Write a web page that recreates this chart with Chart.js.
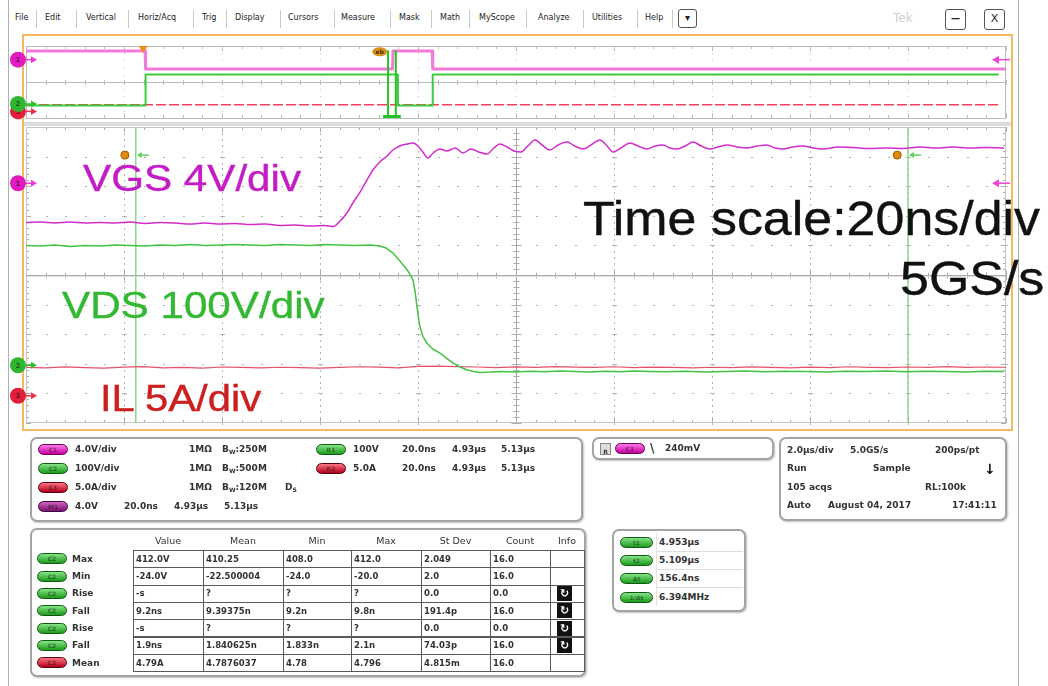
<!DOCTYPE html>
<html><head><meta charset="utf-8">
<script src="https://cdn.jsdelivr.net/npm/chart.js@4.4.1/dist/chart.umd.min.js"></script>
<style>
html,body{margin:0;padding:0;background:#fff;width:1048px;height:686px;overflow:hidden;position:relative;font-family:"DejaVu Sans",sans-serif;}
.abs{position:absolute;}
.menu{position:absolute;top:13px;font:8px "DejaVu Sans";color:#222;white-space:nowrap;line-height:10px;}
.sep{position:absolute;top:10px;width:1px;height:18px;background:#c9c9c9;}
.btn{position:absolute;border:1.5px solid #555;border-radius:3px;background:#fff;font:bold 10px "DejaVu Sans";color:#222;text-align:center;box-sizing:border-box;}
.frame{position:absolute;left:22px;top:34px;width:991px;height:397px;border:2px solid #f7b75f;box-sizing:border-box;}
.panel{position:absolute;border:2px solid #a4a4a4;border-radius:7px;background:#fff;box-shadow:1px 1px 2px rgba(0,0,0,0.25);box-sizing:border-box;}
.t{position:absolute;font:bold 9px "DejaVu Sans";color:#333;white-space:nowrap;line-height:12px;}
.badge{position:absolute;width:30px;height:11px;border-radius:6px;box-sizing:border-box;font:bold 6px "DejaVu Sans";color:rgba(0,0,0,0.45);text-align:center;line-height:10px;}
.bm{background:linear-gradient(#ff7ae8,#c2009e);border:1px solid #6a0055;}
.bg{background:linear-gradient(#86e486,#1c9a1c);border:1px solid #0e5a0e;}
.br{background:linear-gradient(#ff7480,#b0001e);border:1px solid #5a000e;}
.bp{background:linear-gradient(#cf62bf,#7a1070);border:1px solid #3e0838;}
.big{position:absolute;font-family:"Liberation Sans",Arial,sans-serif;white-space:nowrap;transform-origin:0 0;z-index:5;-webkit-text-stroke:0.4px currentColor;}
.cell{position:absolute;border:1px solid #5a5a5a;box-sizing:border-box;background:#fff;}
canvas{position:absolute;left:0;}
sub{font-size:6px;vertical-align:-2px;}
</style></head><body>

<div class="abs" style="left:8px;top:0;width:1px;height:686px;background:#b0b0b0"></div>
<div class="abs" style="left:1018px;top:0;width:1px;height:686px;background:#b0b0b0"></div>
<div class="frame"></div>
<div class="abs" style="left:24px;top:122px;width:987px;height:4px;background:#dcdcdc"></div>

<canvas id="ov" width="1048" height="88" style="top:36px"></canvas>
<canvas id="main" width="1048" height="320" style="top:120px"></canvas>

<div class="big" style="left:83px;top:160px;font-size:37px;line-height:37px;transform:scaleX(1.14);color:#c41cc4">VGS 4V/div</div>
<div class="big" style="left:62px;top:287px;font-size:37px;line-height:37px;transform:scaleX(1.14);color:#34b834">VDS 100V/div</div>
<div class="big" style="left:100px;top:380px;font-size:37px;line-height:37px;transform:scaleX(1.13);color:#cc1f1f">IL 5A/div</div>
<div class="big" style="left:583px;top:194px;font-size:49px;line-height:49px;transform:scaleX(1.06);color:#111">Time scale:20ns/div</div>
<div class="big" style="left:900px;top:254px;font-size:49px;line-height:49px;transform:scaleX(1.06);color:#111">5GS/s</div>

<script>
// ---------------- chart data ----------------
const channelNames = ['VGS', 'VDS', 'IL'];
const channelUnitsPerDiv = [4, 100, 5];
const channelOffsetDiv = [3.1, -3.05, -4.08];

// zoomed acquisition (ns)
const vgsTimeNs = [0.0,2.9,5.9,9.0,12.0,15.1,18.2,21.2,24.3,27.3,30.4,33.5,36.5,39.6,42.7,45.7,48.8,51.8,54.9,58.0,61.0,62.7,64.1,65.5,66.7,68.2,69.6,70.8,72.2,73.7,74.9,76.3,77.8,79.0,80.0,81.0,82.0,83.1,84.5,85.9,87.6,89.2,90.8,92.4,94.1,95.5,96.7,98.2,99.6,101.0,102.4,103.9,105.3,106.9,108.6,110.4,112.0,113.7,115.3,117.1,118.6,119.8,121.4,123.3,124.9,126.7,128.4,130.0,131.4,132.9,134.5,136.1,137.8,139.6,141.2,143.1,145.1,147.1,149.2,151.2,152.9,154.5,156.5,158.6,160.6,162.7,165.7,168.8,172.2,175.7,179.0,182.4,185.9,189.2,192.7,196.1,199.6];
const vgsVolts = [-5.31,-5.24,-5.37,-5.24,-5.37,-5.31,-5.37,-5.24,-5.44,-5.31,-5.37,-5.51,-5.37,-5.51,-5.44,-5.58,-5.51,-5.71,-5.64,-5.78,-5.71,-5.85,-5.10,-4.02,-2.67,-1.18,0.44,1.79,2.87,3.68,4.49,5.03,5.30,5.44,5.03,4.22,3.41,4.09,4.63,4.36,4.76,4.09,4.63,4.22,3.95,4.76,5.30,4.90,4.36,4.22,5.03,5.84,5.17,4.49,5.17,5.57,5.03,4.63,5.17,5.84,5.03,4.22,4.76,5.44,5.03,4.63,5.03,5.17,4.76,4.63,5.03,5.57,5.03,4.63,4.90,5.17,4.90,4.76,5.03,5.17,4.76,4.63,4.90,5.03,4.76,4.63,4.90,4.83,4.69,4.76,4.69,4.90,4.76,4.90,4.76,4.83,4.76];

const vdsTimeNs = [0.0,2.9,5.9,9.0,12.0,15.1,18.2,21.2,24.3,27.3,30.4,33.5,36.5,39.6,42.7,45.7,48.8,51.8,54.9,58.0,61.0,64.1,67.1,70.2,72.2,73.5,74.9,76.3,77.8,78.6,79.0,79.4,79.8,80.1,80.4,81.0,81.8,83.0,84.5,85.8,87.1,88.6,90.0,91.4,92.7,94.7,96.7,99.8,102.9,105.9,109.0,112.0,115.1,118.2,121.2,124.3,127.3,130.4,134.5,138.6,142.7,146.7,150.8,154.9,159.0,163.3,167.3,171.4,175.5,179.6,183.7,187.8,191.8,195.9,199.6];
const vdsVolts = [405,403,406,401,405,403,406,405,403,406,405,408,405,406,408,406,405,408,406,405,408,406,405,406,403,396,379,352,322,300,288,250,197,160,129,98,75,55,41,24,8,-6,-16,-21,-24,-23,-21,-23,-20,-22,-19,-21,-23,-20,-22,-19,-21,-22,-20,-23,-21,-19,-22,-20,-21,-23,-20,-21,-19,-22,-20,-21,-23,-20,-21];

const ilTimeNs = [0,4,8,12,16,20,24,28,32,36,40,44,48,52,56,60,64,68,72,76,80,84,88,92,96,100,104,108,112,116,120,124,128,132,136,140,144,148,152,156,160,164,168,172,176,180,184,188,192,196,200];
const ilAmps = [4.80,4.70,4.88,4.75,4.66,4.84,4.92,4.72,4.80,4.68,4.86,4.78,4.70,4.82,4.74,4.66,4.78,4.90,4.84,4.70,4.95,5.02,4.92,4.86,4.76,4.88,4.80,4.92,4.84,4.78,4.90,4.74,4.84,4.80,4.70,4.82,4.76,4.88,4.80,4.72,4.84,4.76,4.90,4.80,4.74,4.86,4.78,4.92,4.80,4.86,4.82];

const cursorTimesNs = [22.4, 180.0];
const cursorHandleNs = [20.2, 177.8];
const cursorHandleLevelDiv = [4.05, 4.05];

// full record overview (µs)
const ovVgsTimeUs = [0, 2.43, 2.44, 7.48, 7.49, 8.29, 8.30, 20];
const ovVgsVolts = [4.8, 4.8, -5.2, -5.2, 4.8, 4.8, -5.2, -5.2];
const ovVdsTimeUs = [0, 2.43, 2.44, 7.58, 7.59, 8.29, 8.30, 19.85];
const ovVdsVolts = [-20, -20, 410, 410, -20, -20, 410, 410];
const ovIlTimeUs = [0, 4, 8, 12, 16, 19.85];
const ovIlAmps = [4.55, 4.6, 4.55, 4.6, 4.55, 4.6];
const zoomWindowStartUs = 7.367;
const triggerTimeUs = 2.39;
const zoomMarkerUs = 7.22;

// ---------------- helpers ----------------
const toDiv = (ch, v) => channelOffsetDiv[ch] + v / channelUnitsPerDiv[ch];
const pts = (ts, vs, ch) => ts.map((t, i) => ({x: t, y: toDiv(ch, vs[i])}));
const vline = (t) => [{x: t, y: -5}, {x: t, y: 5}];

const graticule = {
  id: 'graticule',
  beforeDatasetsDraw(chart, args, o) {
    const {ctx, chartArea: a, scales: {x, y}} = chart;
    const xd = o.xDiv;
    const X = v => Math.round(x.getPixelForValue(v));
    const Y = v => Math.round(y.getPixelForValue(v));
    ctx.save();
    if (o.kind === 'main') {
      ctx.fillStyle = '#b4b4b4';
      for (let i = 1; i < 10; i++) {
        if (i === 5) continue;
        const px = X(i * xd);
        for (let k = 0; k <= 50; k++) ctx.fillRect(px, Y(-5 + k * 0.2), 1, 2);
      }
      for (let j = 1; j < 10; j++) {
        if (j === 5) continue;
        const py = Y(-5 + j);
        for (let k = 0; k <= 50; k++) ctx.fillRect(X(k * xd / 5), py, 2, 1);
        for (let i = 1; i < 10; i++) ctx.fillRect(X(i * xd) - 2, py, 5, 1);
      }
      ctx.strokeStyle = '#acacac'; ctx.lineWidth = 1;
      const cx = X(5 * xd) + 0.5, cy = Y(0) + 0.5;
      ctx.beginPath();
      ctx.moveTo(a.left, cy); ctx.lineTo(a.right, cy);
      ctx.moveTo(cx, a.top); ctx.lineTo(cx, a.bottom);
      for (let k = 0; k <= 50; k++) {
        const px = X(k * xd / 5) + 0.5, len = (k % 5 === 0) ? 5 : 3;
        ctx.moveTo(px, cy - len); ctx.lineTo(px, cy + len);
        ctx.moveTo(px, a.top); ctx.lineTo(px, a.top + len);
        ctx.moveTo(px, a.bottom); ctx.lineTo(px, a.bottom - len);
        const py = Y(-5 + k * 0.2) + 0.5;
        ctx.moveTo(cx - len, py); ctx.lineTo(cx + len, py);
        ctx.moveTo(a.left, py); ctx.lineTo(a.left + len, py);
        ctx.moveTo(a.right, py); ctx.lineTo(a.right - len, py);
      }
      ctx.stroke();
      ctx.strokeStyle = '#e0e0e0';
      ctx.beginPath(); ctx.moveTo(a.left, cy + 1); ctx.lineTo(a.right, cy + 1); ctx.stroke();
      ctx.strokeStyle = '#c4c4c4';
      ctx.strokeRect(a.left + 0.5, a.top + 0.5, a.right - a.left - 1, a.bottom - a.top - 1);
    } else {
      ctx.fillStyle = '#c4c4c4';
      for (let i = 1; i < 10; i++) {
        const px = X(i * xd);
        for (let j = 0; j <= 10; j++) ctx.fillRect(px, Y(-5 + j), 1, 1);
      }
      ctx.strokeStyle = '#bcbcbc'; ctx.lineWidth = 1;
      ctx.beginPath();
      [Y(5), Y(0), Y(-5)].forEach(py => { ctx.moveTo(a.left, py + 0.5); ctx.lineTo(a.right, py + 0.5); });
      ctx.moveTo(a.left + 0.5, a.top); ctx.lineTo(a.left + 0.5, a.bottom);
      ctx.moveTo(a.right - 0.5, a.top); ctx.lineTo(a.right - 0.5, a.bottom);
      for (let k = 0; k <= 50; k++) {
        const px = X(k * xd / 5) + 0.5, len = (k % 5 === 0) ? 5 : 3;
        ctx.moveTo(px, Y(5)); ctx.lineTo(px, Y(5) + len);
        ctx.moveTo(px, Y(-5)); ctx.lineTo(px, Y(-5) - len);
        ctx.moveTo(px, Y(0) - 2); ctx.lineTo(px, Y(0) + 3);
      }
      ctx.stroke();
    }
    ctx.restore();
  }
};

const chanStyle = [
  {fill: '#e21bbf', arrow: '#ec3cd0', label: '1'},
  {fill: '#2fb52f', arrow: '#2fc02f', label: '2'},
  {fill: '#e0203a', arrow: '#e8304a', label: '3'}
];

function chanBadge(ctx, cx, cy, s) {
  ctx.beginPath(); ctx.arc(cx, cy, 8, 0, Math.PI * 2);
  ctx.fillStyle = s.fill; ctx.fill();
  ctx.fillStyle = 'rgba(0,0,0,0.5)'; ctx.font = 'bold 7px "DejaVu Sans"';
  ctx.textAlign = 'center'; ctx.textBaseline = 'middle';
  ctx.fillText(s.label, cx, cy + 0.5);
  ctx.strokeStyle = s.arrow; ctx.lineWidth = 1.5;
  ctx.beginPath(); ctx.moveTo(cx + 8, cy); ctx.lineTo(cx + 15, cy); ctx.stroke();
  ctx.beginPath(); ctx.moveTo(cx + 19, cy); ctx.lineTo(cx + 13, cy - 3.5); ctx.lineTo(cx + 13, cy + 3.5); ctx.closePath();
  ctx.fillStyle = s.arrow; ctx.fill();
}

const markers = {
  id: 'markers',
  afterDatasetsDraw(chart, args, o) {
    const {ctx, chartArea: a, scales: {x, y}} = chart;
    ctx.save();
    for (let ch = 2; ch >= 0; ch--) chanBadge(ctx, 18, y.getPixelForValue(channelOffsetDiv[ch]), chanStyle[ch]);
    const ry = y.getPixelForValue(channelOffsetDiv[0]);
    ctx.strokeStyle = '#ee44d4'; ctx.lineWidth = 1.5;
    ctx.beginPath(); ctx.moveTo(997, ry); ctx.lineTo(1010, ry); ctx.stroke();
    ctx.beginPath(); ctx.moveTo(992, ry); ctx.lineTo(999, ry - 4); ctx.lineTo(999, ry + 4); ctx.closePath();
    ctx.fillStyle = '#ee44d4'; ctx.fill();
    if (o.kind === 'main') {
      cursorTimesNs.forEach(t => {
        const px = x.getPixelForValue(t), py = y.getPixelForValue(cursorHandleLevelDiv[0]);
        ctx.strokeStyle = '#5fd35f'; ctx.lineWidth = 1.5;
        ctx.beginPath(); ctx.moveTo(px + 4, py); ctx.lineTo(px + 13, py); ctx.stroke();
        ctx.beginPath(); ctx.moveTo(px + 1, py); ctx.lineTo(px + 6, py - 3); ctx.lineTo(px + 6, py + 3); ctx.closePath();
        ctx.fillStyle = '#5fd35f'; ctx.fill();
      });
    } else {
      const tx = x.getPixelForValue(triggerTimeUs), top = y.getPixelForValue(5);
      ctx.fillStyle = '#f08c1a';
      ctx.beginPath(); ctx.moveTo(tx - 4.5, top); ctx.lineTo(tx + 4.5, top); ctx.lineTo(tx, top + 7); ctx.closePath(); ctx.fill();
      const zx = x.getPixelForValue(zoomMarkerUs), zy = y.getPixelForValue(4.2);
      ctx.fillStyle = '#d9901e';
      ctx.beginPath(); ctx.ellipse(zx, zy, 7.5, 4.5, 0, 0, Math.PI * 2); ctx.fill();
      ctx.fillStyle = '#4a2a00'; ctx.font = 'bold 6px "DejaVu Sans"'; ctx.textAlign = 'center'; ctx.textBaseline = 'middle';
      ctx.fillText('eb', zx, zy + 0.5);
      const c0 = x.getPixelForValue(zoomWindowStartUs + cursorTimesNs[0] / 1000);
      const c1 = x.getPixelForValue(zoomWindowStartUs + cursorTimesNs[1] / 1000);
      const by = y.getPixelForValue(-5);
      ctx.fillStyle = '#22c322';
      ctx.fillRect(c0 - 5, by - 3, c1 - c0 + 10, 3);
    }
    ctx.restore();
  }
};

const baseOpts = (kind, xMax, pad) => ({
  responsive: false, animation: false, events: [], devicePixelRatio: 1,
  layout: {padding: pad},
  scales: {
    x: {type: 'linear', min: 0, max: xMax, display: false},
    y: {type: 'linear', min: -5, max: 5, display: false}
  },
  elements: {point: {radius: 0}, line: {tension: 0, borderJoinStyle: 'round'}},
  plugins: {legend: {display: false}, tooltip: {enabled: false},
    graticule: {kind: kind, xDiv: xMax / 10}, markers: {kind: kind}}
});

Chart.register(graticule, markers);

new Chart(document.getElementById('main'), {
  type: 'line',
  data: {datasets: [
    {label: channelNames[0], data: pts(vgsTimeNs, vgsVolts, 0), borderColor: '#d22ccb', borderWidth: 1.5, cubicInterpolationMode: 'monotone'},
    {label: channelNames[1], data: pts(vdsTimeNs, vdsVolts, 1), borderColor: '#44c244', borderWidth: 1.5},
    {label: channelNames[2], data: pts(ilTimeNs, ilAmps, 2), borderColor: '#e5506a', borderWidth: 1.2},
    {label: 'handles', data: cursorHandleNs.map((t, i) => ({x: t, y: cursorHandleLevelDiv[i]})), showLine: false,
      pointRadius: 4, pointBackgroundColor: '#e08a0c', pointBorderColor: '#9a5a00', pointBorderWidth: 1},
    {label: 'cursor a', data: vline(cursorTimesNs[0]), borderColor: '#86dc86', borderWidth: 1.5},
    {label: 'cursor b', data: vline(cursorTimesNs[1]), borderColor: '#86dc86', borderWidth: 1.5}
  ]},
  options: baseOpts('main', 200, {left: 26, right: 42, top: 7, bottom: 17})
});

new Chart(document.getElementById('ov'), {
  type: 'line',
  data: {datasets: [
    {label: 'c1a', data: vline(zoomWindowStartUs + cursorTimesNs[0] / 1000).map(p => ({x: p.x, y: Math.min(p.y, 4.4)})), borderColor: '#22c322', borderWidth: 2},
    {label: 'c1b', data: vline(zoomWindowStartUs + cursorTimesNs[1] / 1000).map(p => ({x: p.x, y: Math.min(p.y, 4.4)})), borderColor: '#22c322', borderWidth: 2},
    {label: channelNames[0], data: pts(ovVgsTimeUs, ovVgsVolts, 0), borderColor: '#f27ad8', borderWidth: 3},
    {label: channelNames[1], data: pts(ovVdsTimeUs, ovVdsVolts, 1), borderColor: '#3ccc3c', borderWidth: 2},
    {label: channelNames[2], data: pts(ovIlTimeUs, ovIlAmps, 2), borderColor: '#f0405a', borderWidth: 1.5, borderDash: [10, 3]}
  ]},
  options: baseOpts('ov', 20, {left: 26, right: 42, top: 10, bottom: 6})
});

// ---------------- menu bar ----------------
const menuItems = ['File','Edit','Vertical','Horiz/Acq','Trig','Display','Cursors','Measure','Mask','Math','MyScope','Analyze','Utilities','Help'];
const menuX = [15,45,86,138,202,235,288,341,399,440,479,538,592,645];
const sepX = [36,76,128,193,226,280,334,390,431,469,526,583,637,672];
menuItems.forEach((m, i) => { const d = document.createElement('div'); d.className = 'menu'; d.textContent = m; d.style.left = menuX[i] + 'px'; document.body.appendChild(d); });
sepX.forEach(x => { const d = document.createElement('div'); d.className = 'sep'; d.style.left = x + 'px'; document.body.appendChild(d); });

function el(cls, x, y, w, h, html, extra) {
  const d = document.createElement('div'); d.className = cls;
  d.style.left = x + 'px'; d.style.top = y + 'px';
  if (w != null) d.style.width = w + 'px';
  if (h != null) d.style.height = h + 'px';
  if (html != null) d.innerHTML = html;
  if (extra) Object.assign(d.style, extra);
  document.body.appendChild(d); return d;
}
const txt = (x, yc, s, extra) => el('t', x, yc - 6, null, null, s, extra);
const badge = (x, yc, c, s, w) => el('badge ' + c, x, yc - 5.5, w || 30, 11, s || '');

el('btn', 678, 9, 19, 19, '▾', {lineHeight: '16px'});
el('btn', 945, 9, 21, 21, '—', {lineHeight: '17px', fontSize: '9px'});
el('btn', 984, 9, 21, 21, 'X', {lineHeight: '18px', fontSize: '11px', fontWeight: 'normal'});
el('abs', 893, 11, null, null, 'Tek', {font: '12px "DejaVu Sans"', color: '#cfcfcf'});

// ---------------- channel panel ----------------
el('panel', 30, 437, 553, 85);
const rowY = [449, 468, 487, 506];
const chBadges = ['bm', 'bg', 'br', 'bp'];
const chBadgeTxt = ['C1', 'C2', 'C3', 'M1'];
const chScaleTxt = ['4.0V/div', '100V/div', '5.0A/div', '4.0V'];
const chBwTxt = ['250M', '500M', '120M'];
rowY.forEach((yc, i) => { badge(38, yc, chBadges[i], chBadgeTxt[i]); txt(75, yc, chScaleTxt[i]); });
chBwTxt.forEach((b, i) => { txt(189, rowY[i], '1MΩ'); txt(222, rowY[i], 'B<sub>W</sub>:' + b); });
txt(285, rowY[2], 'D<sub>S</sub>');
const refBadges = ['bg', 'br'];
const refLevel = ['100V', '5.0A'];
const refInfo = ['20.0ns', '4.93µs', '5.13µs'];
refLevel.forEach((r, i) => {
  badge(316, rowY[i], refBadges[i], 'R' + (i + 1));
  txt(353, rowY[i], r); txt(402, rowY[i], refInfo[0]); txt(452, rowY[i], refInfo[1]); txt(501, rowY[i], refInfo[2]);
});
txt(124, rowY[3], refInfo[0]); txt(174, rowY[3], refInfo[1]); txt(224, rowY[3], refInfo[2]);

// ---------------- trigger panel ----------------
el('panel', 592, 437, 182, 23);
el('abs', 600, 443, 9, 10, '<span style="font:bold 6px DejaVu Sans;color:#333">R</span>', {border: '1px solid #888', background: '#ddd', textAlign: 'center', lineHeight: '9px'});
badge(615, 448, 'bm', 'C1');
txt(650, 448, '\\', {fontSize: '12px'});
txt(665, 448, '240mV');

// ---------------- acquisition panel ----------------
el('panel', 779, 437, 228, 84);
const acqY = [450, 468, 487, 505];
txt(787, acqY[0], '2.0µs/div'); txt(850, acqY[0], '5.0GS/s'); txt(935, acqY[0], '200ps/pt');
txt(787, acqY[1], 'Run'); txt(873, acqY[1], 'Sample'); txt(984, acqY[1] + 1, '↓', {fontSize: '14px', color: '#111'});
txt(787, acqY[2], '105 acqs'); txt(925, acqY[2], 'RL:100k');
txt(787, acqY[3], 'Auto'); txt(828, acqY[3], 'August 04, 2017'); txt(952, acqY[3], '17:41:11');

// ---------------- measurement table ----------------
el('panel', 30, 528, 556, 149);
const measHeaders = ['Value', 'Mean', 'Min', 'Max', 'St Dev', 'Count', 'Info'];
const colX = [133, 203, 283, 351, 421, 490, 550, 584];
const measLabels = ['Max', 'Min', 'Rise', 'Fall', 'Rise', 'Fall', 'Mean'];
const measBadges = ['bg', 'bg', 'bg', 'bg', 'bg', 'bg', 'br'];
const measRows = [
  ['412.0V', '410.25', '408.0', '412.0', '2.049', '16.0', ''],
  ['-24.0V', '-22.500004', '-24.0', '-20.0', '2.0', '16.0', ''],
  ['-s', '?', '?', '?', '0.0', '0.0', 'i'],
  ['9.2ns', '9.39375n', '9.2n', '9.8n', '191.4p', '16.0', 'i'],
  ['-s', '?', '?', '?', '0.0', '0.0', 'i'],
  ['1.9ns', '1.840625n', '1.833n', '2.1n', '74.03p', '16.0', 'i'],
  ['4.79A', '4.7876037', '4.78', '4.796', '4.815m', '16.0', '']
];
measHeaders.forEach((h, c) => { const d = txt((colX[c] + colX[c + 1]) / 2, 541, h, {fontWeight: 'normal', fontSize: '9.5px'}); d.style.transform = 'translateX(-50%)'; });
measRows.forEach((row, r) => {
  const top = 550 + r * 17.3, yc = top + 8.8;
  badge(37, yc, measBadges[r], 'C' + (r === 6 ? 3 : 2));
  txt(72, yc, measLabels[r]);
  row.forEach((v, c) => {
    el('cell', colX[c], top, colX[c + 1] - colX[c] + 1, 18.3);
    if (v === 'i') {
      el('abs', colX[c] + 7, top + 1.5, 15, 15, '↻', {background: '#111', color: '#fff', font: 'bold 11px "DejaVu Sans"', textAlign: 'center', lineHeight: '15px'});
    } else if (v) {
      txt(colX[c] + 3, yc, v, {fontSize: '8.5px'});
    }
  });
});

// ---------------- cursor readout panel ----------------
el('panel', 612, 529, 134, 83);
const curLabels = ['t1', 't2', 'Δt', '1/Δt'];
const curValues = ['4.953µs', '5.109µs', '156.4ns', '6.394MHz'];
const curY = [542, 560, 578, 597];
curValues.forEach((v, i) => {
  el('abs', 656, curY[i] - 9, 86, 18, null, {borderBottom: i < 3 ? '1px solid #ddd' : 'none', borderLeft: '1px solid #e4e4e4'});
  badge(620, curY[i], 'bg', curLabels[i], 33);
  txt(659, curY[i], v);
});
</script>
</body></html>
